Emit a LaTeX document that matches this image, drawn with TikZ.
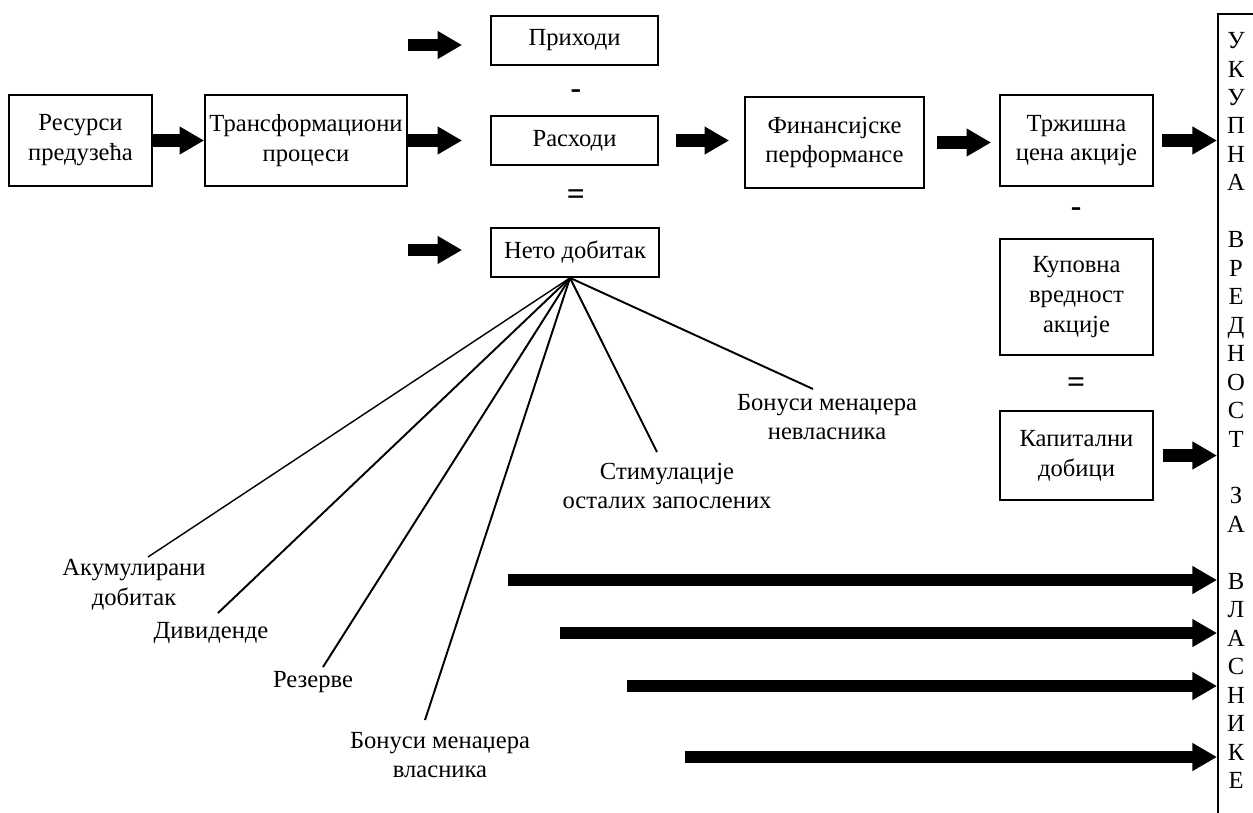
\documentclass[tikz,border=0pt]{standalone}
\usepackage{fontspec}
\setmainfont{Liberation Serif}
\usepackage{tikz}
\usetikzlibrary{arrows.meta,calc}
\tikzset{
  vbox/.style={rectangle, draw=black, line width=1pt, inner sep=0pt, align=center,
               font=\fontsize{14}{17}\selectfont},
  vlab/.style={align=center, inner sep=0pt, font=\fontsize{14}{17}\selectfont},
  vlet/.style={align=center, inner sep=0pt, font=\fontsize{14}{16.2}\selectfont},
  vsign/.style={inner sep=0pt, font=\fontsize{18}{18}\selectfont\bfseries},
  varr/.style={draw=black, line width=7pt, -{Triangle[length=14pt,width=15pt]}},
  vfan/.style={draw=black, line width=1.1pt},
}

\begin{document}
\begin{tikzpicture}[x=0.02cm, y=-0.02cm]
  \useasboundingbox (0,0) rectangle (1253,812);
  \node[vbox, minimum width=2.86cm, minimum height=1.82cm] (res) at (80.5,140.5) {Ресурси\\предузећа};
  \node[vbox, minimum width=4.04cm, minimum height=1.82cm] (trans) at (306,140.5) {Трансформациони\\процеси};
  \node[vbox, minimum width=3.34cm, minimum height=0.98cm] (prih) at (574.5,40.5) {Приходи};
  \node[vbox, minimum width=3.34cm, minimum height=0.98cm] (rash) at (574.5,140.5) {Расходи};
  \node[vbox, minimum width=3.36cm, minimum height=0.98cm] (neto) at (575,252.5) {Нето добитак};
  \node[vbox, minimum width=3.58cm, minimum height=1.82cm] (fin) at (834.5,142.5) {Финансијске\\перформансе};
  \node[vbox, minimum width=3.06cm, minimum height=1.82cm] (trz) at (1076.5,140.5) {Тржишна\\цена акције};
  \node[vbox, minimum width=3.06cm, minimum height=2.32cm] (kup) at (1076.5,297) {Куповна\\вредност\\акције};
  \node[vbox, minimum width=3.06cm, minimum height=1.78cm] (kap) at (1076.5,455.5) {Капитални\\добици};
  \node[vbox, minimum width=0.76cm, minimum height=16.6cm, anchor=north west] (big) at (1217,13) {};
  \node[vlet] (bigtxt) at (1236,410.5) {У\\К\\У\\П\\Н\\А\\[16.2pt]В\\Р\\Е\\Д\\Н\\О\\С\\Т\\[16.2pt]З\\А\\[16.2pt]В\\Л\\А\\С\\Н\\И\\К\\Е};

  \node[vsign] (minA) at (576,94) {-};
  \node[vsign] (eqA) at (576,197) {=};
  \node[vsign] (minB) at (1076,212) {-};
  \node[vsign] (eqB) at (1076,385) {=};

  \coordinate (inPrih) at (408,45);
  \coordinate (inNeto) at (408,250);
  \draw[varr] (res) -- (trans);
  \draw[varr, shorten >=0.56cm] (trans) -- (rash);
  \draw[varr, shorten >=0.56cm] (inPrih) -- (inPrih -| prih.west);
  \draw[varr, shorten >=0.56cm] (inNeto) -- (inNeto -| neto.west);
  \draw[varr, shorten <=0.34cm, shorten >=0.3cm] (rash.east) -- (rash.east -| fin.west);
  \draw[varr, shorten <=0.24cm, shorten >=0.16cm] (fin.east) -- (fin.east -| trz.west);
  \draw[varr, shorten <=0.16cm] (trz.east) -- (trz.east -| big.west);
  \draw[varr, shorten <=0.18cm] (kap.east) -- (kap.east -| big.west);

  \coordinate (toBigA) at (508,580);
  \coordinate (toBigB) at (560,633);
  \coordinate (toBigC) at (627,686);
  \coordinate (toBigD) at (685,757);
  \draw[varr] (toBigA) -- (toBigA -| big.west);
  \draw[varr] (toBigB) -- (toBigB -| big.west);
  \draw[varr] (toBigC) -- (toBigC -| big.west);
  \draw[varr] (toBigD) -- (toBigD -| big.west);

  \node[vlab] (akum) at (134,585) {Акумулирани\\добитак};
  \node[vlab] (divid) at (211,633) {Дивиденде};
  \node[vlab] (rez) at (313,682) {Резерве};
  \node[vlab] (bonVl) at (440,755) {Бонуси менаџера\\власника};
  \node[vlab] (stim) at (667,486) {Стимулације\\осталих запослених};
  \node[vlab] (bonNevl) at (827,417) {Бонуси менаџера\\невласника};

  \coordinate (fan) at ([xshift=-0.1cm]neto.south);
  \coordinate (akumEnd) at (148,557);
  \coordinate (dividEnd) at (218,613);
  \coordinate (rezEnd) at (323,667);
  \coordinate (bonVlEnd) at (425,720);
  \coordinate (stimEnd) at (657,452);
  \coordinate (bonNevlEnd) at (813,389);
  \draw[vfan, line width=0.8pt] (fan) -- (akumEnd);
  \draw[vfan] (fan) -- (dividEnd);
  \draw[vfan] (fan) -- (rezEnd);
  \draw[vfan] (fan) -- (bonVlEnd);
  \draw[vfan] (fan) -- (stimEnd);
  \draw[vfan] (fan) -- (bonNevlEnd);
\end{tikzpicture}
\end{document}
